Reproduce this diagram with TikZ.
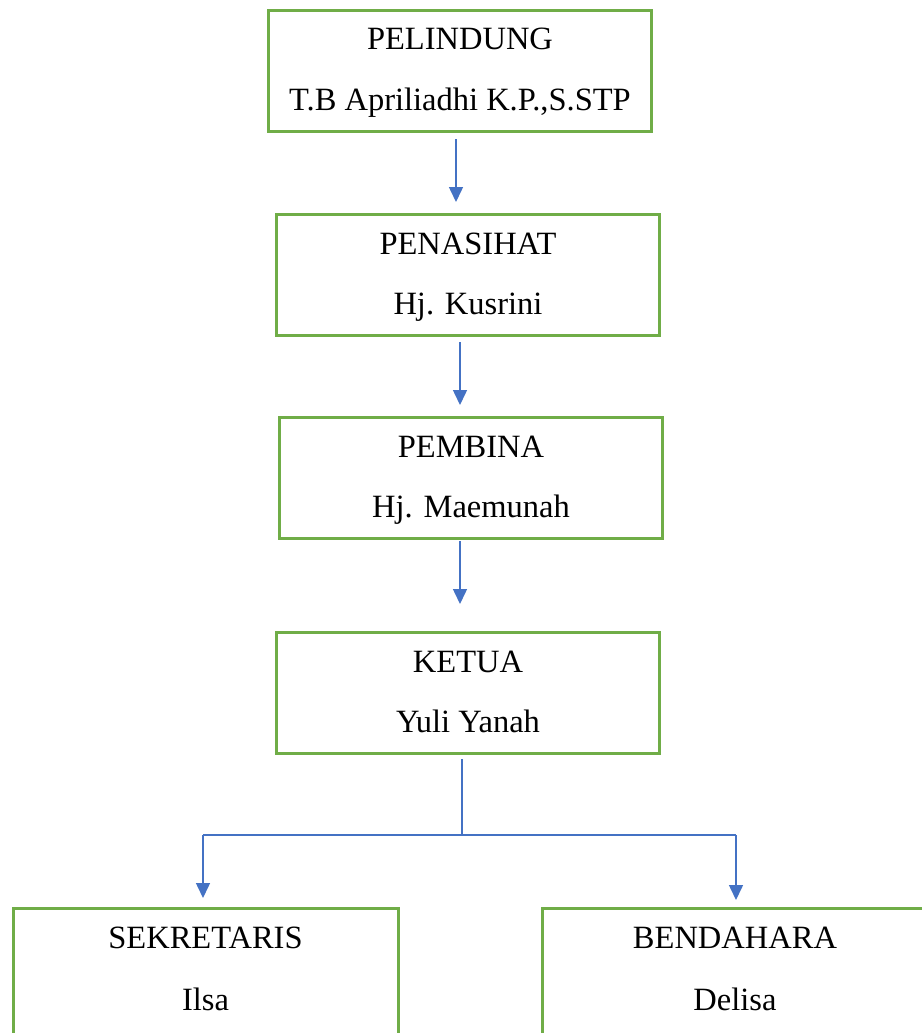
\documentclass[tikz,border=0pt]{standalone}
\usepackage{fontspec}
\setmainfont{Liberation Serif}
\usetikzlibrary{arrows.meta}
\definecolor{boxgreen}{HTML}{70AD47}
\definecolor{linkblue}{HTML}{4472C4}
\begin{document}
\begin{tikzpicture}[x=1pt,y=-1pt,
  orgbox/.style={draw=boxgreen, line width=3pt, minimum width=383pt, minimum height=121pt, inner sep=0pt, anchor=north west},
  txt/.style={anchor=base, inner sep=0pt, font=\fontsize{32.5}{38}\selectfont},
  link/.style={draw=linkblue, line width=1.5pt},
  arr/.style={link, -{Triangle[length=15pt,width=14pt]}},
  openbox/.style={draw=boxgreen, line width=3pt}
]
\useasboundingbox[fill=white] (0,0) rectangle (922,1033);

\node[orgbox] (b1) at (267,9) {};
\node[txt] (t1a) at ([yshift=-41pt]b1.north) {PELINDUNG};
\node[txt] (t1b) at ([yshift=-101pt]b1.north) {T.B Apriliadhi K.P.,S.STP};

\node[orgbox] (b2) at (275,213) {};
\node[txt] (t2a) at ([yshift=-41pt]b2.north) {PENASIHAT};
\node[txt] (t2b) at ([yshift=-101pt]b2.north) {Hj. Kusrini};

\node[orgbox] (b3) at (278,416) {};
\node[txt] (t3a) at ([yshift=-41pt]b3.north) {PEMBINA};
\node[txt] (t3b) at ([yshift=-101pt]b3.north) {Hj. Maemunah};

\node[orgbox] (b4) at (275,631) {};
\node[txt] (t4a) at ([yshift=-41pt]b4.north) {KETUA};
\node[txt] (t4b) at ([yshift=-101pt]b4.north) {Yuli Yanah};

% bottom boxes run past the lower (and right) edge of the picture
\coordinate (b5tl) at (13,908);
\coordinate (b5tr) at (398,908);
\coordinate (b5bl) at (13,1033);
\coordinate (b5br) at (398,1033);
\draw[openbox] (b5bl) -- (b5tl) -- (b5tr) -- (b5br);
\coordinate (c5) at (205.5,908);
\node[txt] (t5a) at ([yshift=-40pt]c5) {SEKRETARIS};
\node[txt] (t5b) at ([yshift=-102pt]c5) {Ilsa};

\coordinate (b6tl) at (542,908);
\coordinate (b6tr) at (922,908);
\coordinate (b6bl) at (542,1033);
\draw[openbox] (b6bl) -- (b6tl) -- (b6tr);
\coordinate (c6) at (735,908);
\node[txt] (t6a) at ([yshift=-40pt]c6) {BENDAHARA};
\node[txt] (t6b) at ([yshift=-102pt]c6) {Delisa};

\coordinate (a1s) at (456,139); \coordinate (a1e) at (456,202);
\coordinate (a2s) at (460,342); \coordinate (a2e) at (460,405);
\coordinate (a3s) at (460,541); \coordinate (a3e) at (460,604);
\draw[arr] (a1s) -- (a1e);
\draw[arr] (a2s) -- (a2e);
\draw[arr] (a3s) -- (a3e);

\coordinate (ts) at (462,759);
\coordinate (tj) at (462,835);
\coordinate (tl) at (203,835);
\coordinate (tr) at (736,835);
\coordinate (tle) at (203,898);
\coordinate (tre) at (736,900);
\draw[link] (ts) -- (tj);
\draw[link] (tl) -- (tr);
\draw[arr] (tl) -- (tle);
\draw[arr] (tr) -- (tre);
\end{tikzpicture}
\end{document}
